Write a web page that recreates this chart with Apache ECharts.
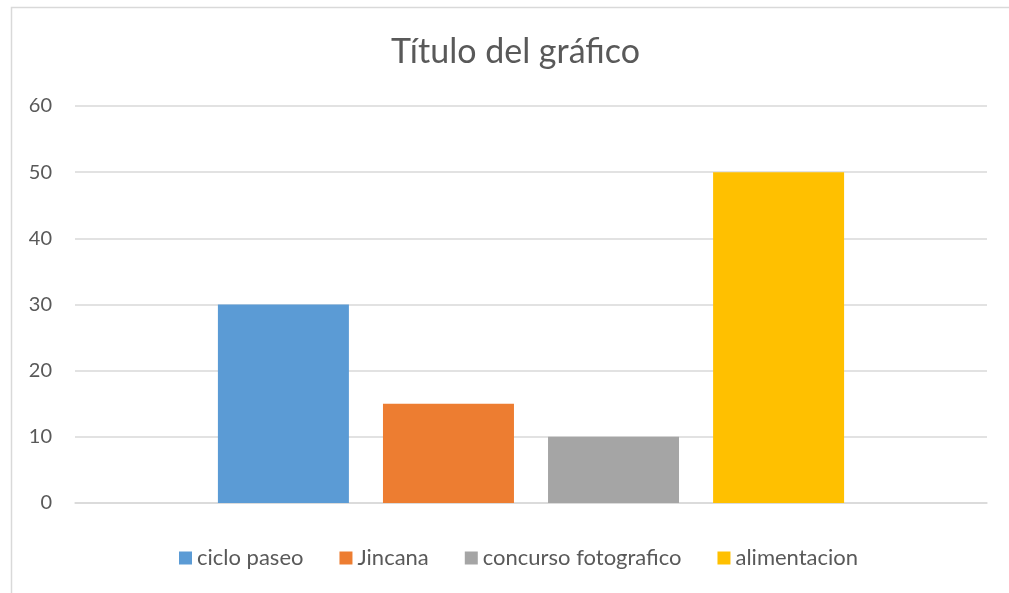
<!DOCTYPE html>
<html>
<head>
<meta charset="utf-8">
<script src="https://cdn.jsdelivr.net/npm/echarts@6/dist/echarts.min.js"></script>
<style>
  html, body { margin: 0; padding: 0; background: #fff; }
  #chart { width: 1009px; height: 593px; }
</style>
</head>
<body>
<div id="chart"></div>
<script>
var categories = [''];
var seriesNames = ['ciclo paseo', 'Jincana', 'concurso fotografico', 'alimentacion'];
var seriesValues = [30, 15, 10, 50];
var seriesColors = ['#5b9bd5', '#ed7d31', '#a5a5a5', '#ffc000'];
var yTicks = { min: 0, max: 60, interval: 10 };

var myChart = echarts.init(document.getElementById('chart'));

var series = seriesNames.map(function (name, i) {
  return {
    name: name,
    type: 'bar',
    data: [seriesValues[i]],
    barWidth: 131,
    barGap: '26%',
    itemStyle: { color: seriesColors[i] }
  };
});

var option = {
  animation: false,
  textStyle: { fontFamily: 'Lato, "Open Sans", sans-serif' },
  title: {
    text: 'Título del gráfico',
    left: 386,
    top: 30,
    textStyle: { fontSize: 34, fontWeight: 'normal', color: '#595959', fontFamily: 'Lato, "Open Sans", sans-serif' }
  },
  graphic: [{
    type: 'rect',
    shape: { x: 11.5, y: 7.5, width: 1100, height: 700 },
    style: { fill: 'none', stroke: '#d9d9d9', lineWidth: 1.5 },
    silent: true
  }],
  legend: {
    bottom: 19,
    left: 174,
    itemWidth: 13,
    itemHeight: 13,
    itemGap: 36,
    icon: 'rect',
    textStyle: { fontSize: 22, color: '#595959' },
    data: seriesNames
  },
  grid: { left: 75, right: 22, top: 106, bottom: 90 },
  xAxis: {
    type: 'category',
    data: categories,
    axisLine: { lineStyle: { color: '#d9d9d9', width: 1.5 } },
    axisTick: { show: false },
    axisLabel: { show: false }
  },
  yAxis: {
    type: 'value',
    min: yTicks.min,
    max: yTicks.max,
    interval: yTicks.interval,
    axisLine: { show: false },
    axisTick: { show: false },
    axisLabel: { fontSize: 20, color: '#595959', margin: 23 },
    splitLine: { lineStyle: { color: '#d9d9d9', width: 1.5 } }
  },
  series: series
};

myChart.setOption(option);
</script>
</body>
</html>
